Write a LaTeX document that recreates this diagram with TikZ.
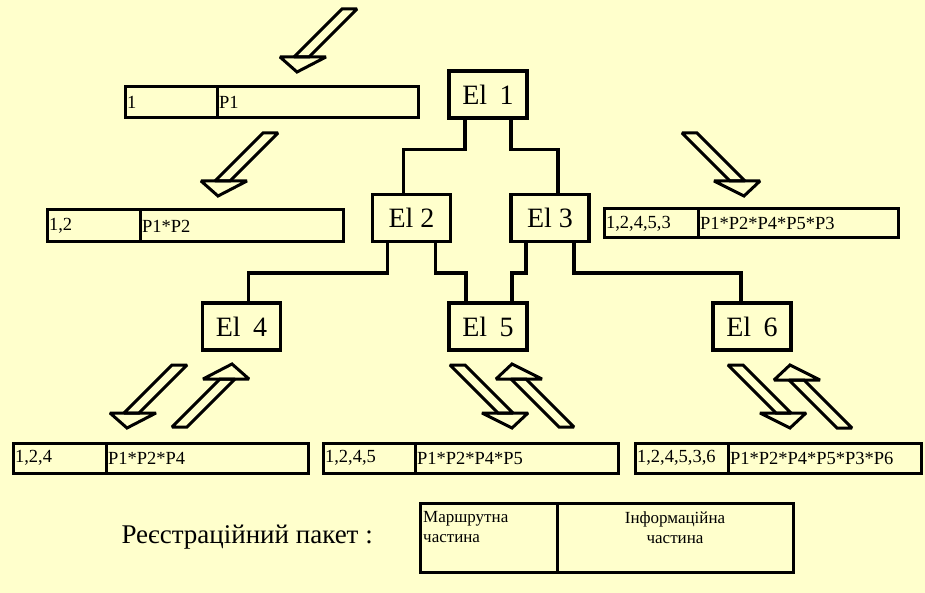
\documentclass[tikz,border=0pt]{standalone}
\usepackage{fontspec}
\setmainfont{Liberation Serif}
\definecolor{bg}{HTML}{FFFFCC}
\tikzset{
  elbox/.style={draw, line width=3.5pt, minimum width=78pt, minimum height=47pt, inner sep=0pt, font=\fontsize{28}{30}\selectfont},
  conn/.style={line width=3.5pt, line join=miter},
  cell/.style={draw, line width=3pt, inner xsep=2pt, inner ysep=0pt, outer sep=0pt, anchor=north west, align=left, font=\fontsize{18.5}{20}\selectfont},
  arrline/.style={draw, line width=3pt, line join=miter, miter limit=2},
  arrdl/.pic={\draw[arrline] (0,0)--(15,0)--(-33,48)--(-48,48)--cycle;
              \draw[arrline] (-62,48)--(-16,48)--(-45,63)--cycle;},
  arrdr/.pic={\draw[arrline] (0,0)--(15,0)--(63,48)--(48,48)--cycle;
              \draw[arrline] (32,48)--(78,48)--(62,63)--cycle;},
  arrur/.pic={\draw[arrline] (0,0)--(15,0)--(63,-48)--(48,-48)--cycle;
              \draw[arrline] (31,-48)--(77,-48)--(60,-63)--cycle;},
  arrul/.pic={\draw[arrline] (0,0)--(15,0)--(-33,-48)--(-48,-48)--cycle;
              \draw[arrline] (-63,-48)--(-17,-48)--(-47,-63)--cycle;},
}
\begin{document}
\begin{tikzpicture}[x=1pt,y=-1pt]
\fill[bg] (0,0) rectangle (925,593);
\useasboundingbox (0,0) rectangle (925,593);

% element nodes
\node[elbox] (e1) at (488,94.5) {El\hspace{0.45em}1};
\node[elbox] (e2) at (411.5,218) {El 2};
\node[elbox] (e3) at (550,218) {El 3};
\node[elbox] (e4) at (241.5,326.5) {El\hspace{0.45em}4};
\node[elbox] (e5) at (488,326.5) {El\hspace{0.45em}5};
\node[elbox] (e6) at (752,326.5) {El\hspace{0.45em}6};

% connectors
\draw[conn] ([xshift=-23pt]e1.south) -- ++(0,30) -| ([xshift=-8pt]e2.north);
\draw[conn] ([xshift=23pt]e1.south) -- ++(0,30) -| ([xshift=8pt]e3.north);
\draw[conn] ([xshift=-24pt]e2.south) -- ++(0,30) -| ([xshift=7pt]e4.north);
\draw[conn] ([xshift=24pt]e2.south) -- ++(0,30) -| ([xshift=-22pt]e5.north);
\draw[conn] ([xshift=-24pt]e3.south) -- ++(0,30) -| ([xshift=24pt]e5.north);
\draw[conn] ([xshift=24pt]e3.south) -- ++(0,30) -| ([xshift=-11pt]e6.north);

% packet boxes
\node[cell, text width=88pt, minimum height=31pt] (b1a) at (125,87) {1};
\node[cell, text width=197pt, minimum height=31pt] (b1b) at (b1a.north east) {P1};
\node[cell, text width=89pt, minimum height=32pt] (b2a) at (47,210) {1,2};
\node[cell, text width=199pt, minimum height=32pt] (b2b) at (b2a.north east) {P1*P2};
\node[cell, text width=90pt, minimum height=29pt] (b3a) at (604,209) {1,2,4,5,3};
\node[cell, text width=196pt, minimum height=29pt] (b3b) at (b3a.north east) {P1*P2*P4*P5*P3};
\node[cell, text width=89pt, minimum height=30pt] (b4a) at (13,443) {1,2,4};
\node[cell, text width=198pt, minimum height=30pt] (b4b) at (b4a.north east) {P1*P2*P4};
\node[cell, text width=88pt, minimum height=30pt] (b5a) at (323,443) {1,2,4,5};
\node[cell, text width=199pt, minimum height=30pt] (b5b) at (b5a.north east) {P1*P2*P4*P5};
\node[cell, text width=89pt, minimum height=30pt] (b6a) at (635,443) {1,2,4,5,3,6};
\node[cell, text width=189pt, minimum height=30pt] (b6b) at (b6a.north east) {P1*P2*P4*P5*P3*P6};

% arrows
\pic at (342,9) {arrdl};
\pic at (263,133) {arrdl};
\pic at (682,133) {arrdr};
\pic at (172,365) {arrdl};
\pic at (172,427) {arrur};
\pic at (450,365) {arrdr};
\pic at (559,427) {arrul};
\pic at (728,365) {arrdr};
\pic at (837,428) {arrul};

% legend
\node[anchor=west, font=\fontsize{27}{29}\selectfont] (lg) at (118,537) {Реєстраційний пакет :};
\node[cell, minimum width=137pt, minimum height=69pt,
  label={[anchor=north west, align=left, inner xsep=3pt, inner ysep=8pt, font=\fontsize{17}{20}\selectfont]north west:Маршрутна\\частина}] (la) at (420,503) {};
\node[cell, minimum width=236pt, minimum height=69pt,
  label={[anchor=north, align=center, inner ysep=8pt, font=\fontsize{17}{20}\selectfont]north:Інформаційна\\частина}] (lb) at (la.north east) {};
\end{tikzpicture}
\end{document}
